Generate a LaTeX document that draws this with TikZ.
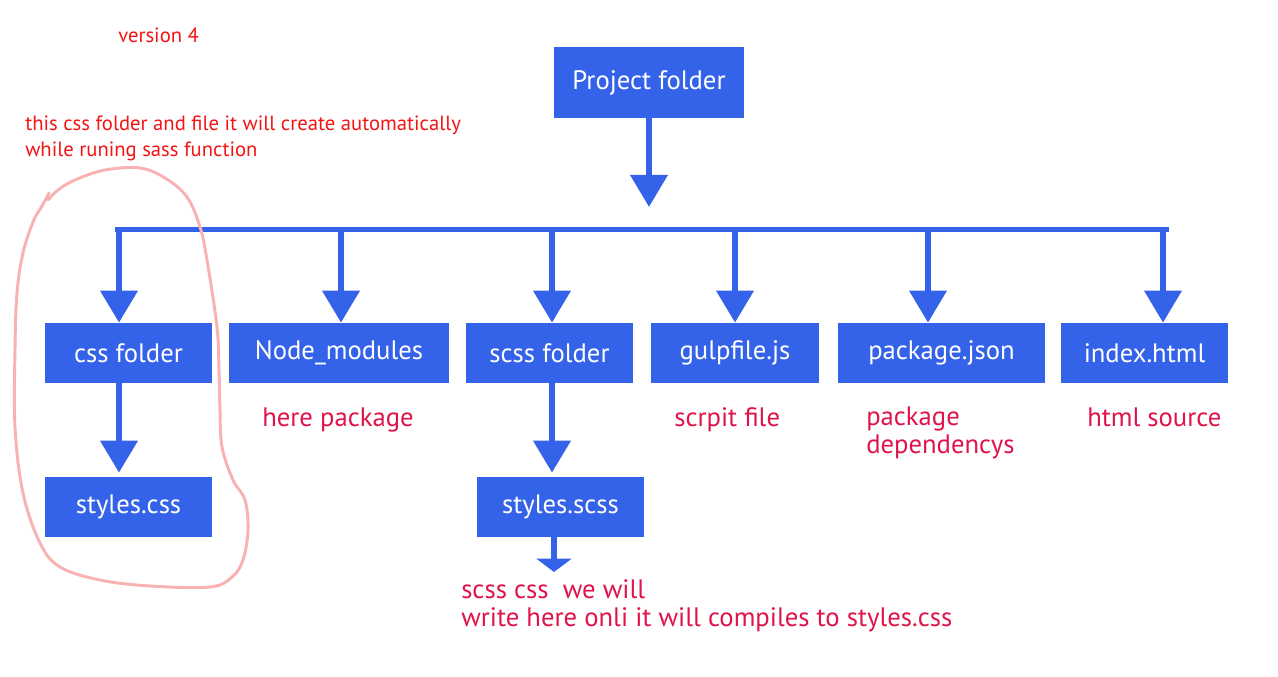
\documentclass[tikz,border=0pt]{standalone}
\usepackage{fontspec}
\setmainfont{PT Sans}
\usetikzlibrary{arrows.meta}
\definecolor{boxblue}{RGB}{52,99,233}
\definecolor{notered}{RGB}{245,20,20}
\definecolor{labelred}{RGB}{224,20,74}
\definecolor{ringpink}{RGB}{248,178,178}
\begin{document}
\begin{tikzpicture}[x=0.75pt,y=-0.75pt,
  box/.style={fill=boxblue,text=white,inner sep=0pt,minimum height=45pt,font=\fontsize{20}{24}\selectfont},
  lbl/.style={text=labelred,inner sep=0pt,anchor=base west,align=left,font=\fontsize{20}{20.5}\selectfont},
  note/.style={text=notered,inner sep=0pt,anchor=base west,align=left,font=\fontsize{15.5}{19.5}\selectfont},
  stem/.style={draw=boxblue,line width=5pt,-{Triangle[width=27pt,length=24pt]}},
  bar/.style={draw=boxblue,line width=3.5pt}]
\useasboundingbox[fill=white] (0,0) rectangle (1278,677);
\node[box,minimum width=142.5pt,minimum height=53pt] (proj) at (649,82.5) {Project folder};
\node[box,minimum width=125pt] (cssdir) at (128.5,353) {css folder};
\node[box,minimum width=165pt] (nodemods) at (339,353) {Node\_modules};
\node[box,minimum width=125pt] (scssdir) at (549.5,353) {scss folder};
\node[box,minimum width=126pt] (gulpjs) at (735,353) {gulpfile.js};
\node[box,minimum width=155pt] (pkgjson) at (941.5,353) {package.json};
\node[box,minimum width=125pt] (indexhtml) at (1144.5,353) {index.html};
\node[box,minimum width=125pt] (csssheet) at (128.5,507) {styles.css};
\node[box,minimum width=125pt] (scsssheet) at (560.5,507) {styles.scss};
\node[note] (version) at (118,43) {version 4};
\node[note] (autonote) at (25,157) {this css folder and file it will create automatically\\while runing sass function};
\node[lbl] (nodenote) at (262,426) {here package};
\node[lbl] (gulpnote) at (674,426) {scrpit file};
\node[lbl] (pkgnote) at (866,453) {package\\dependencys};
\node[lbl] (indexnote) at (1087,426) {html source};
\node[lbl] (scssnote) at (461,626) {scss css\ \ we will\\write here onli it will compiles to styles.css};
\coordinate (hub) at (649,207);
\coordinate (barl) at (115,229.5);
\coordinate (barr) at (1169,229.5);
\coordinate (d1) at (119,229.5);
\coordinate (d2) at (341,229.5);
\coordinate (d3) at (552,229.5);
\coordinate (d4) at (735,229.5);
\coordinate (d5) at (928,229.5);
\coordinate (d6) at (1163,229.5);
\coordinate (scssout) at (554,572);
\draw[stem] (proj) to (hub);
\draw[bar] (barl) to (barr);
\draw[stem] (d1) to (d1 |- cssdir.north);
\draw[stem] (d2) to (d2 |- nodemods.north);
\draw[stem] (d3) to (d3 |- scssdir.north);
\draw[stem] (d4) to (d4 |- gulpjs.north);
\draw[stem] (d5) to (d5 |- pkgjson.north);
\draw[stem] (d6) to (d6 |- indexhtml.north);
\draw[stem,shorten >=3pt] (d1 |- cssdir.south) to (d1 |- csssheet.north);
\draw[stem,shorten >=3pt] (d3 |- scssdir.south) to (d3 |- scsssheet.north);
\draw[stem,line width=4.3pt,-{Triangle[width=26pt,length=10pt]}] (scssout |- scsssheet.south) to (scssout);
\draw[ringpink,line width=2.2pt,line cap=round,line join=round] plot[smooth,tension=0.6] coordinates {(49,193) (42,206) (33,222) (23,253) (17,293) (15,350) (15,427) (23,493) (40,543) (60,567) (100,580) (150,586) (210,587) (232,577) (243,560) (248,530) (245,500) (233,480) (222,447) (220,410) (219,370) (217,327) (207,260) (200,227) (187,197) (165,178) (140,168) (105,170) (75,180) (58,190) (48,200)};
\end{tikzpicture}
\end{document}
